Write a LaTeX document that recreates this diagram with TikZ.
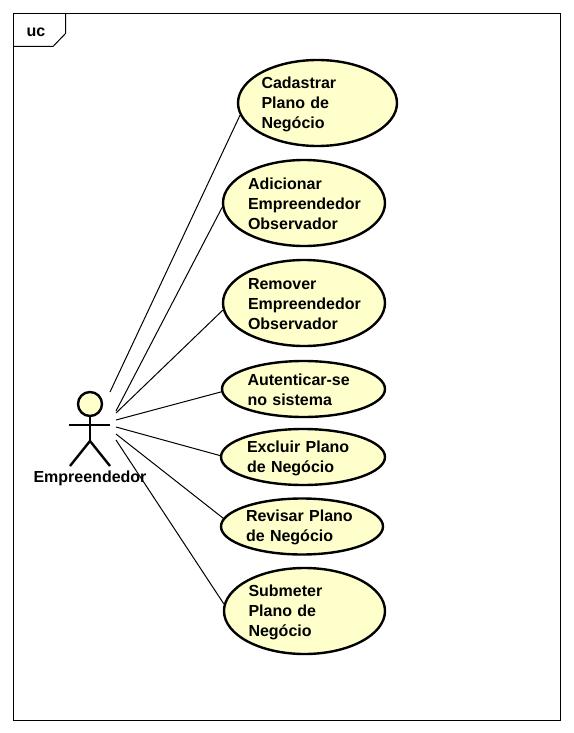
\documentclass[tikz,border=0pt]{standalone}
\usepackage{fontspec}
\setmainfont{Liberation Sans}
\usetikzlibrary{shapes.geometric}
\definecolor{usecase fill}{RGB}{255,255,204}
\tikzset{
  label font/.style={font=\fontsize{16}{20}\selectfont\bfseries},
  usecase/.style={ellipse, draw=black, line width=2.4pt, fill=usecase fill, text width=112pt,
    align=left, inner sep=0pt, label font, execute at begin node={\leavevmode\rule{0pt}{14pt}}},
  stick/.style={draw=black, line width=2.4pt},
  edge/.style={draw=black, line width=1pt}
  }
\tikzstyle{frame} = [draw=black, line width=1pt]
\tikzstyle{actorhead}=[circle, draw=black, line width=2.4pt, fill=usecase fill, minimum size=24pt, inner sep=0pt]

\begin{document}
\begin{tikzpicture}[x=1pt,y=1pt]
  \useasboundingbox (0,0) rectangle (573,-733);

  % frame and its tab
  \path[frame] (13.5,-13.5) rectangle (560.5,-720.5);
  \path[frame] (65.5,-13.5) -- (65.5,-33.5) -- (53,-46.5) -- (13.5,-46.5);
  \node[label font] (tab) at (36,-32) {uc};

  % use cases
  \foreach \pos/\name/\ewd/\eht/\txt in {
    {(317.5,-103)/cadastrar/159pt/86pt/{Cadastrar\\Plano de\\Negócio}},
    {(304,-203)/adicionar/162pt/86pt/{Adicionar\\Empreendedor\\Observador}},
    {(304,-303)/remover/162pt/86pt/{Remover\\Empreendedor\\Observador}},
    {(303.5,-389)/autenticar/163pt/56pt/{Autenticar-se\\no sistema}},
    {(303,-457)/excluir/164pt/56pt/{Excluir Plano\\de Negócio}},
    {(302,-526.5)/revisar/162pt/56pt/{Revisar Plano\\de Negócio}},
    {(304.5,-611)/submeter/161pt/86pt/{Submeter\\Plano de\\Negócio}}} {
    \node[usecase, minimum width=\ewd, minimum height=\eht] (\name) at \pos {\txt};
  }

  % actor
  \node[actorhead] (head) at (90,-404) {};
  \coordinate (hip) at (90,-441);
  \coordinate (handL) at (69,-425);
  \coordinate (handR) at (110,-425);
  \coordinate (footL) at (70,-466);
  \coordinate (footR) at (110,-466);
  \path[stick] (head.south) -- (hip);
  \path[stick] (handL) -- (handR);
  \path[stick] (footL) -- (hip) -- (footR);
  \node[label font, inner sep=0pt] (actor) at (90,-478) {Empreendedor};

  % connectors
  \foreach \px/\py/\name/\ang in {
    110/-392/cadastrar/189, 116/-411/adicionar/183, 116/-413/remover/185,
    116/-420/autenticar/182, 116/-427/excluir/179, 116/-434/revisar/174,
    116/-440/submeter/175} {
    \coordinate (from\name) at (\px,\py);
    \path[edge] (from\name) -- (\name.\ang);
  }
\end{tikzpicture}
\end{document}
